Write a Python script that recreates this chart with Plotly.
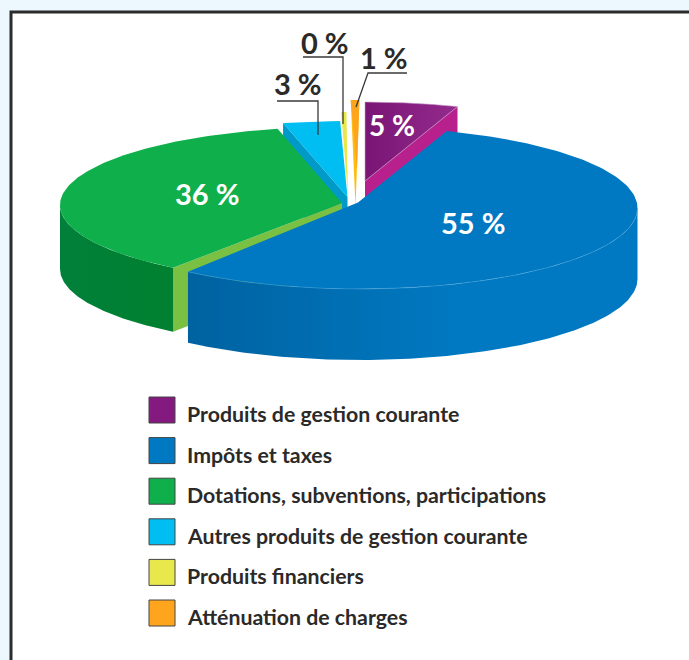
import numpy as np
import plotly.graph_objects as go

# ---- data ----
categories = ["Produits de gestion courante", "Impôts et taxes",
              "Dotations, subventions, participations",
              "Autres produits de gestion courante",
              "Produits financiers", "Atténuation de charges"]
values = [5.4, 55.5, 36.4, 3.3, 0.3, 0.5]
pct_labels = ["5 %", "55 %", "36 %", "3 %", "0 %", "1 %"]

# ---- appearance: exploded pie layout (pixel space of the page) ----
A = 278
#        ellipse cx, cy, b, start angle (deg, clockwise sweep), apex x, y, depth
GEOM = [(365, 183, 81, 90.0, 365, 181, 70),
        (359.5, 208, 81, 71.7, 358, 202.5, 71),
        (338, 205, 78, -126.4, 342, 203, 64),
        (347.5, 197, 76, 103.4, 347.5, 197, 70),
        (347.5, 190, 78, 91.3, 348, 197, 0),
        (357.5, 179, 79, 91.4, 357, 170, 0)]
FACE = ["#85197f", "#0079c2", "#0fb04b", "#00bdf2", "#e8e84c", "#ffa51d"]
LEG = ["#84197f", "#0079c2", "#0fb04b", "#00bdf2", "#e8e84c", "#ffa51d"]
CUT = ["#b8208d", None, "#7ac143", "#009ac9", None, None]
FONT = "Lato"
DARK = "#2b2a29"

fig = go.Figure()


def arc(i, t0=None, t1=None):
    cx, cy, b, start, *_ = GEOM[i]
    end = start - values[i] * 3.6
    lo = start if t0 is None else t0
    hi = end if t1 is None else t1
    t = np.radians(np.linspace(lo, hi, 160))
    return cx + A * np.cos(t), cy - b * np.sin(t)


def poly(xs, ys, color=None, grad=None, line=None):
    kw = dict(x=list(xs), y=list(ys), mode="lines", fill="toself", hoverinfo="skip",
              showlegend=False, line=dict(width=0.6 if line else 0, color=line or "rgba(0,0,0,0)"))
    if grad:
        kw["fillgradient"] = dict(type="horizontal", colorscale=grad[0], start=grad[1], stop=grad[2])
        kw["fillcolor"] = grad[0][0][1]
    else:
        kw["fillcolor"] = color
    fig.add_trace(go.Scatter(**kw))


def wedge(i, apex=None, **kw):
    x, y = arc(i)
    ax, ay = apex or GEOM[i][4:6]
    poly(np.r_[ax, x, ax], np.r_[ay, y, ay], **kw)


def cut(i, which):
    """Radial cut face of slice i, pushed down by the slice depth."""
    x, y = arc(i)
    ax, ay, d = GEOM[i][4:7]
    k = 0 if which == "start" else -1
    poly([ax, x[k], x[k], ax, ax], [ay, y[k], y[k] + d, ay + d, ay], color=CUT[i])


def wall(i, t0, t1, **kw):
    x, y = arc(i, t0, t1)
    d = GEOM[i][6]
    poly(np.r_[x, x[::-1], x[0]], np.r_[y, y[::-1] + d, y[0]], **kw)


# back slices first
cut(0, "end")
wedge(0, grad=([[0, "#791574"], [1, "#942b8e"]], 365, 457), line="#c9a0c8")
cut(3, "start")
wedge(3, color=FACE[3])
wedge(4, color=FACE[4])
# orange slice: amber cut faces beneath the top face
wedge(5, apex=(355.5, 206), color="#ffbc10")
wedge(5, color=FACE[5])
# green
cut(2, "start")
wall(2, -180, GEOM[2][3], grad=([[0, "#00803a"], [1, "#00802f"]], 60, 175))
wedge(2, color=FACE[2])
# blue in front
start_b = GEOM[1][3]
end_b = start_b - values[1] * 3.6
wall(1, end_b, 0, grad=([[0, "#0062a0"], [0.6, "#0079c2"], [1, "#0079c2"]], 186, 640))
wedge(1, color=FACE[1])
x_r, y_r = arc(1, 0, end_b)
fig.add_trace(go.Scatter(x=x_r, y=y_r, mode="lines", line=dict(color="#3f9dd6", width=0.6),
                         hoverinfo="skip", showlegend=False))

# leader lines
for lx, ly in [([303, 343, 343], [57, 57, 124]),
               ([277, 318, 318], [101, 101, 135]),
               ([407, 368, 356], [73, 73, 107])]:
    fig.add_trace(go.Scatter(x=lx, y=ly, mode="lines", line=dict(color="#3a3a3a", width=1.3),
                             hoverinfo="skip", showlegend=False))

# legend
for i, c in enumerate(categories):
    y = 410 + 40.6 * i
    fig.add_trace(go.Scatter(x=[162], y=[y], mode="markers",
                             marker=dict(symbol="square", size=26, color=LEG[i],
                                         line=dict(color="#444444", width=1)),
                             name=c, hoverinfo="name", showlegend=False))
    fig.add_annotation(x=185, y=y + 4, text=f"<b>{c}</b>", showarrow=False, xanchor="left",
                       font=dict(family=FONT, size=21.3, color=DARK))

# percent labels
for txt, px, py, sz, col in [(pct_labels[0], 392, 125, 28, "white"),
                             (pct_labels[1], 473, 222, 29, "white"),
                             (pct_labels[2], 207, 193, 29, "white"),
                             (pct_labels[3], 298, 83, 29, DARK),
                             (pct_labels[4], 325, 42, 29, DARK),
                             (pct_labels[5], 384, 57, 29, DARK)]:
    fig.add_annotation(x=px, y=py, text=f"<b>{txt}</b>", showarrow=False,
                       font=dict(family=FONT, size=sz, color=col))

fig.update_layout(
    width=689, height=660, margin=dict(l=0, r=0, t=0, b=0), autosize=False,
    paper_bgcolor="#edf7fe", plot_bgcolor="#edf7fe", showlegend=False,
    xaxis=dict(range=[0, 689], visible=False, fixedrange=True),
    yaxis=dict(range=[660, 0], visible=False, fixedrange=True),
    shapes=[dict(type="rect", xref="x", yref="y", x0=11, y0=12, x1=720, y1=700,
                 fillcolor="white", line=dict(color="#2b2b2b", width=3), layer="below")],
)
fig.write_html("out.html", config=dict(displayModeBar=False),
               post_script="document.body.style.margin='0';document.documentElement.style.background='#edf7fe';")
